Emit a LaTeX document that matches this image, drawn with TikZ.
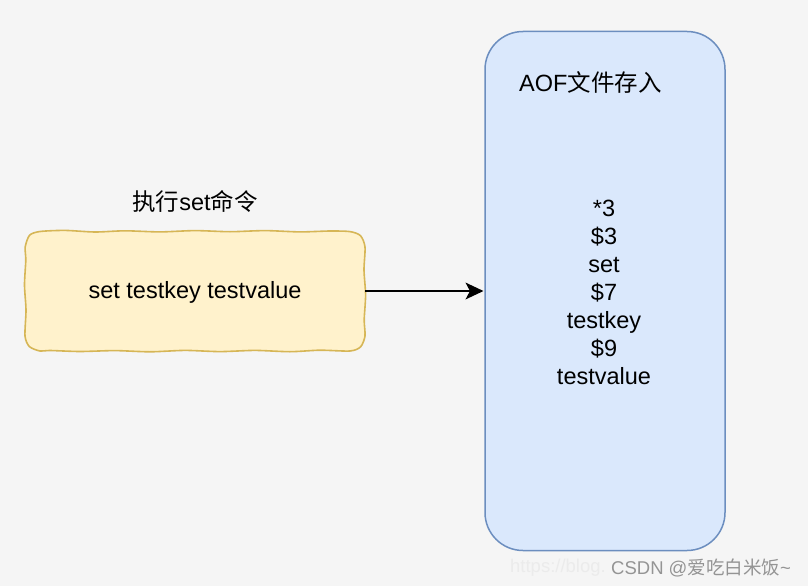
\documentclass[tikz,border=0pt]{standalone}
\usepackage{fontspec}
\setmainfont{Liberation Sans}
\newfontfamily\cjk{Noto Sans CJK SC}
\definecolor{bgc}{HTML}{F5F5F5}
\definecolor{yfill}{HTML}{FFF2CC}
\definecolor{ydraw}{HTML}{D6B656}
\definecolor{bfill}{HTML}{DAE8FC}
\definecolor{bdraw}{HTML}{6C8EBF}
\tikzset{
  txt/.style={font=\fontsize{23.5}{28}\selectfont, text=black, inner sep=0pt, align=center},
  sketchbox/.style={minimum width=340pt, minimum height=120pt, inner sep=0pt},
  sketchline/.style={fill=yfill, draw=ydraw, line width=1.6pt, line join=round},
  bluebox/.style={fill=bfill, draw=bdraw, line width=1.5pt, rounded corners=38pt, minimum width=240pt, minimum height=519pt},
  conn/.style={line width=2pt, black},
  tiphead/.style={fill=black},
  wm/.style={font=\fontsize{18.5}{20}\selectfont, inner sep=0pt}
}
\begin{document}
\begin{tikzpicture}[x=1pt,y=-1pt]
\fill[bgc] (0,0) rectangle (808,586);
\useasboundingbox (0,0) rectangle (808,586);
% left sketch box (hand-drawn outline)
\draw[sketchline] plot[smooth cycle, tension=0.45] coordinates {
  (40,231.5) (65,230.4) (95,232) (125,230.8) (160,231.9) (195,230.6) (230,231.7) (265,230.6) (300,231.9) (330,231) (350,231.6)
  (360.4,235.6)
  (365,247) (364,270) (365.6,295) (364.2,320) (365,336)
  (360.6,346.8)
  (350,351) (320,350.2) (290,351.7) (255,350.4) (220,351.6) (185,350.4) (150,351.8) (115,350.6) (80,351.5) (50,350.5) (40,351)
  (29.4,346.6)
  (25,336) (26,310) (24.5,285) (25.8,260) (25.2,247)
  (29.6,235.2)
};
\node[sketchbox] (cmd) at (195,291) {};
\node[txt] (cmdtxt) at (195,292) {set testkey testvalue};
\node[txt] (cmdtitle) at (195,201) {{\cjk 执行}set{\cjk 命令}};
% right box
\node[bluebox] (aof) at (605,291) {};
\node[txt, anchor=west] (aoftitle) at (519,82) {AOF{\cjk 文件存入}};
\node[txt] (aoftxt) at (604,292) {*3\\\$3\\set\\\$7\\testkey\\\$9\\testvalue};
% connector
\draw[conn] (cmd.east) -- ([xshift=-10pt]aof.west);
\fill[tiphead] ([xshift=-0.8pt]aof.west) -- ++(-18,-8.5) -- ++(4.5,8.5) -- ++(-4.5,8.5) -- cycle;
% watermark
\node[wm, text=black!8, anchor=east] (wmurl) at (606,568) {https://blog.};
\node[wm, text=black!42, anchor=west] (wmtxt) at (611,568) {CSDN @{\cjk 爱吃白米饭}\textasciitilde};
\end{tikzpicture}
\end{document}
